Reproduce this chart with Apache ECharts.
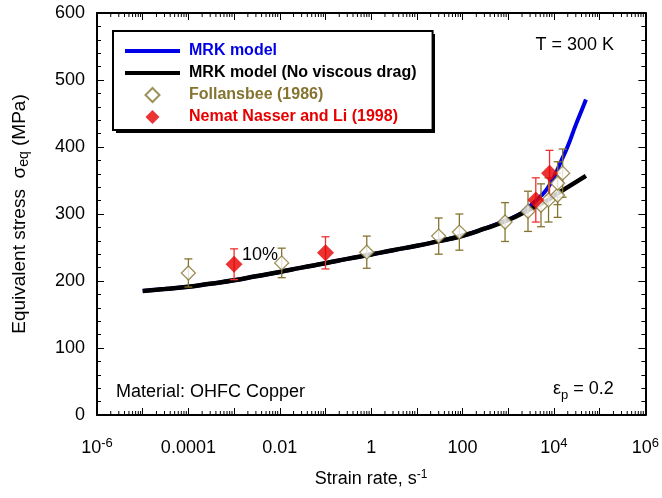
<!DOCTYPE html>
<html>
<head>
<meta charset="utf-8">
<script src="https://cdn.jsdelivr.net/npm/echarts@6/dist/echarts.min.js"></script>
<style>html,body{margin:0;padding:0;background:#fff;}#c{width:662px;height:498px;}</style>
</head>
<body>
<div id="c"></div>
<script>
// ---- data (strain rate in s^-1, stress in MPa) ----
const blackX = [1e-5, 3e-5, 1e-4, 3e-4, 1e-3, 3e-3, 0.01, 0.03, 0.1, 0.3, 1, 3, 10, 30, 100, 300, 1000, 3000, 7000, 1e4, 2e4, 5e4];
const blackY = [185, 188, 191.5, 196, 201, 207, 213.5, 220, 226.5, 233, 239.5, 246, 252.5, 259.5, 267.5, 278, 291, 307, 320, 327, 340, 357];
const blueX = [1e-5, 3e-5, 1e-4, 3e-4, 1e-3, 3e-3, 0.01, 0.03, 0.1, 0.3, 1, 3, 10, 30, 100, 300, 1000, 2000, 3000, 5000, 7000, 1e4, 1.5e4, 2e4, 3e4, 4e4, 5e4];
const blueY = [185, 188, 191.5, 196, 201, 207, 213.5, 220, 226.5, 233, 239.5, 246, 252.5, 259.5, 267.5, 278, 292, 302, 312, 326, 337, 355, 382, 401, 433, 454, 471];
const follX = [1e-4, 0.011, 0.8, 30, 85, 850, 2700, 5200, 7600, 12000, 12000, 15500];
const follY = [212, 227, 243, 267, 273, 288, 304, 313, 321, 328, 346, 361];
const follErr = [21, 22, 24, 27, 27, 29, 30, 32, 33, 33, 32, 36];
const nnX = [0.001, 0.1, 4000, 8000];
const nnY = [225, 242, 321, 361];
const nnErr = [23, 24, 33, 34];
const xTickValues = [1e-6, 1e-4, 1e-2, 1, 100, 1e4, 1e6];
const xTickLabels = ['10^-6', '0.0001', '0.01', '1', '100', '10^4', '10^6'];
const seriesNames = ['MRK model', 'MRK model (No viscous drag)', 'Follansbee (1986)', 'Nemat Nasser and Li (1998)'];

// ---- styles ----
const FONT = 'Liberation Sans, Arial, Helvetica, sans-serif';
const BLUE = '#0000e6', BLACK = '#000000', OLIVE = '#857430', RED = '#e60000', RED_BAR = '#f03030';
const DIAMOND = 'path://M7,0L14,7L7,14L0,7Z';

const L = Math.log10;
const pairs = (xs, ys) => xs.map((x, i) => [L(x), ys[i]]);
const errs = (xs, ys, es) => xs.map((x, i) => [L(x), ys[i] - es[i], ys[i] + es[i]]);

// minor tick positions of the log axis (2..9 in each decade)
const minorPos = [];
for (let d = -6; d < 6; d++) for (let k = 2; k <= 9; k++) minorPos.push([d + L(k)]);

function fmtX(v) {
  const i = xTickValues.findIndex(t => Math.abs(L(t) - v) < 1e-9);
  if (i < 0) return '';
  const s = xTickLabels[i];
  if (s.indexOf('^') >= 0) {
    const p = s.split('^');
    return '{n|' + p[0] + '}{sup|' + p[1] + '}';
  }
  return '{n|' + s + '}';
}

function errRender(color) {
  return function (params, api) {
    const x = api.value(0);
    const lo = api.coord([x, api.value(1)]);
    const hi = api.coord([x, api.value(2)]);
    const w = 4;
    const st = { stroke: color, lineWidth: 1.3 };
    return {
      type: 'group',
      children: [
        { type: 'line', shape: { x1: hi[0], y1: hi[1], x2: lo[0], y2: lo[1] }, style: st },
        { type: 'line', shape: { x1: hi[0] - w, y1: hi[1], x2: hi[0] + w, y2: hi[1] }, style: st },
        { type: 'line', shape: { x1: lo[0] - w, y1: lo[1], x2: lo[0] + w, y2: lo[1] }, style: st }
      ]
    };
  };
}

function minorRender(params, api) {
  const x = api.value(0);
  const b = api.coord([x, 0]);
  const t = api.coord([x, 600]);
  const st = { stroke: '#000', lineWidth: 1 };
  return {
    type: 'group',
    children: [
      { type: 'line', shape: { x1: b[0], y1: b[1], x2: b[0], y2: b[1] - 4 }, style: st },
      { type: 'line', shape: { x1: t[0], y1: t[1], x2: t[0], y2: t[1] + 4 }, style: st }
    ]
  };
}

const axisLineSt = { show: true, onZero: false, lineStyle: { color: '#000', width: 2 } };
const tickSt = { inside: true, length: 7, lineStyle: { color: '#000', width: 1 } };
const richX = {
  n: { fontSize: 18, fontFamily: FONT, color: '#000', lineHeight: 20, verticalAlign: 'bottom' },
  sup: { fontSize: 13, fontFamily: FONT, color: '#000', lineHeight: 14, verticalAlign: 'top', padding: [0, 0, 14, 0] }
};

const chart = echarts.init(document.getElementById('c'), null, { renderer: 'canvas' });
const option = {
  animation: false,
  backgroundColor: '#fff',
  grid: { left: 97, right: 16, top: 13, bottom: 83, containLabel: false },
  xAxis: [
    {
      type: 'value', min: -6, max: 6, interval: 1, position: 'bottom',
      axisLine: axisLineSt, axisTick: tickSt,
      splitLine: { show: false },
      axisLabel: { formatter: fmtX, rich: richX, margin: 42, verticalAlign: 'bottom', showMinLabel: true, showMaxLabel: true },
      name: 'Strain rate, s{sup|-1}', nameLocation: 'middle', nameGap: 59,
      nameTextStyle: {
        fontSize: 18, fontFamily: FONT, color: '#000', lineHeight: 20, verticalAlign: 'bottom',
        rich: { sup: { fontSize: 12, fontFamily: FONT, color: '#000', lineHeight: 12, verticalAlign: 'top' } }
      }
    },
    {
      type: 'value', min: -6, max: 6, interval: 1, position: 'top',
      axisLine: axisLineSt, axisTick: tickSt,
      splitLine: { show: false }, axisLabel: { show: false }
    }
  ],
  yAxis: [
    {
      type: 'value', min: 0, max: 600, interval: 100, position: 'left',
      axisLine: axisLineSt, axisTick: tickSt,
      minorTick: { show: true, splitNumber: 5, length: 4, lineStyle: { color: '#000', width: 1 } },
      splitLine: { show: false },
      axisLabel: { fontSize: 18, fontFamily: FONT, color: '#000', margin: 12 },
      name: 'Equivalent stress  σ{sub|eq} (MPa)', nameLocation: 'middle', nameGap: 66, nameRotate: 90,
      nameTextStyle: {
        fontSize: 19, fontFamily: FONT, color: '#000', lineHeight: 22,
        rich: { sub: { fontSize: 14, fontFamily: FONT, color: '#000', lineHeight: 13, verticalAlign: 'bottom' } }
      }
    },
    {
      type: 'value', min: 0, max: 600, interval: 100, position: 'right',
      axisLine: axisLineSt, axisTick: tickSt,
      minorTick: { show: true, splitNumber: 5, length: 4, lineStyle: { color: '#000', width: 1 } },
      splitLine: { show: false }, axisLabel: { show: false }
    }
  ],
  legend: {
    orient: 'vertical', left: 113, top: 31,
    padding: [12, 16, 5, 10], itemGap: 6, itemWidth: 55, itemHeight: 14,
    backgroundColor: '#fff', borderColor: '#000', borderWidth: 2,
    selectedMode: false,
    lineStyle: { width: 4 },
    textStyle: { fontFamily: FONT, fontSize: 16, fontWeight: 'bold', lineHeight: 16, padding: [0, 0, 0, 4] },
    data: [
      { name: seriesNames[0], textStyle: { color: BLUE }, itemStyle: { color: 'rgba(0,0,0,0)', borderWidth: 0, opacity: 0 }, lineStyle: { width: 4, color: BLUE } },
      { name: seriesNames[1], textStyle: { color: BLACK }, itemStyle: { color: 'rgba(0,0,0,0)', borderWidth: 0, opacity: 0 }, lineStyle: { width: 4, color: BLACK } },
      { name: seriesNames[2], icon: DIAMOND, textStyle: { color: OLIVE } },
      { name: seriesNames[3], icon: DIAMOND, textStyle: { color: RED } }
    ]
  },
  series: [
    {
      name: seriesNames[0], type: 'line', data: pairs(blueX, blueY), showSymbol: false, symbol: 'none',
      smooth: 0.5, z: 2,
      lineStyle: { color: BLUE, width: 4 }, itemStyle: { color: BLUE }
    },
    {
      name: seriesNames[1], type: 'line', data: pairs(blackX, blackY), showSymbol: false, symbol: 'none',
      smooth: 0.5, z: 3,
      lineStyle: { color: BLACK, width: 4.5 }, itemStyle: { color: BLACK }
    },
    {
      name: 'follErr', type: 'custom', data: errs(follX, follY, follErr), renderItem: errRender(OLIVE), z: 4, silent: true
    },
    {
      name: 'nnErr', type: 'custom', data: errs(nnX, nnY, nnErr), renderItem: errRender(RED_BAR), z: 4, silent: true
    },
    {
      name: seriesNames[2], type: 'scatter', data: pairs(follX, follY), symbol: 'diamond', symbolSize: 14, z: 5,
      itemStyle: { color: '#fff', borderColor: OLIVE, borderWidth: 1.3 }
    },
    {
      name: seriesNames[3], type: 'scatter', data: pairs(nnX, nnY), symbol: 'diamond', symbolSize: 17, z: 6,
      itemStyle: { color: RED, borderColor: RED, borderWidth: 0 }
    },
    {
      name: 'minorTicks', type: 'custom', data: minorPos, renderItem: minorRender, z: 1, silent: true, clip: false
    }
  ],
  graphic: [
    { type: 'rect', left: 116, top: 34, z: 0, shape: { width: 319, height: 99 }, style: { fill: '#000' } },
    { type: 'text', right: 48, top: 36, style: { text: 'T = 300 K', font: '18px ' + FONT, fill: '#000' } },
    { type: 'text', left: 242, top: 246, style: { text: '10%', font: '18px ' + FONT, fill: '#000' } },
    { type: 'text', left: 116, top: 383, style: { text: 'Material: OHFC Copper', font: '18px ' + FONT, fill: '#000' } },
    {
      type: 'text', left: 553, top: 380,
      style: {
        text: '{a|ε}{s|p}{a| = 0.2}',
        rich: {
          a: { fontSize: 18, fontFamily: FONT, fill: '#000', lineHeight: 22, verticalAlign: 'top' },
          s: { fontSize: 13, fontFamily: FONT, fill: '#000', lineHeight: 13, verticalAlign: 'bottom' }
        }
      }
    }
  ]
};
chart.setOption(option);
</script>
</body>
</html>
